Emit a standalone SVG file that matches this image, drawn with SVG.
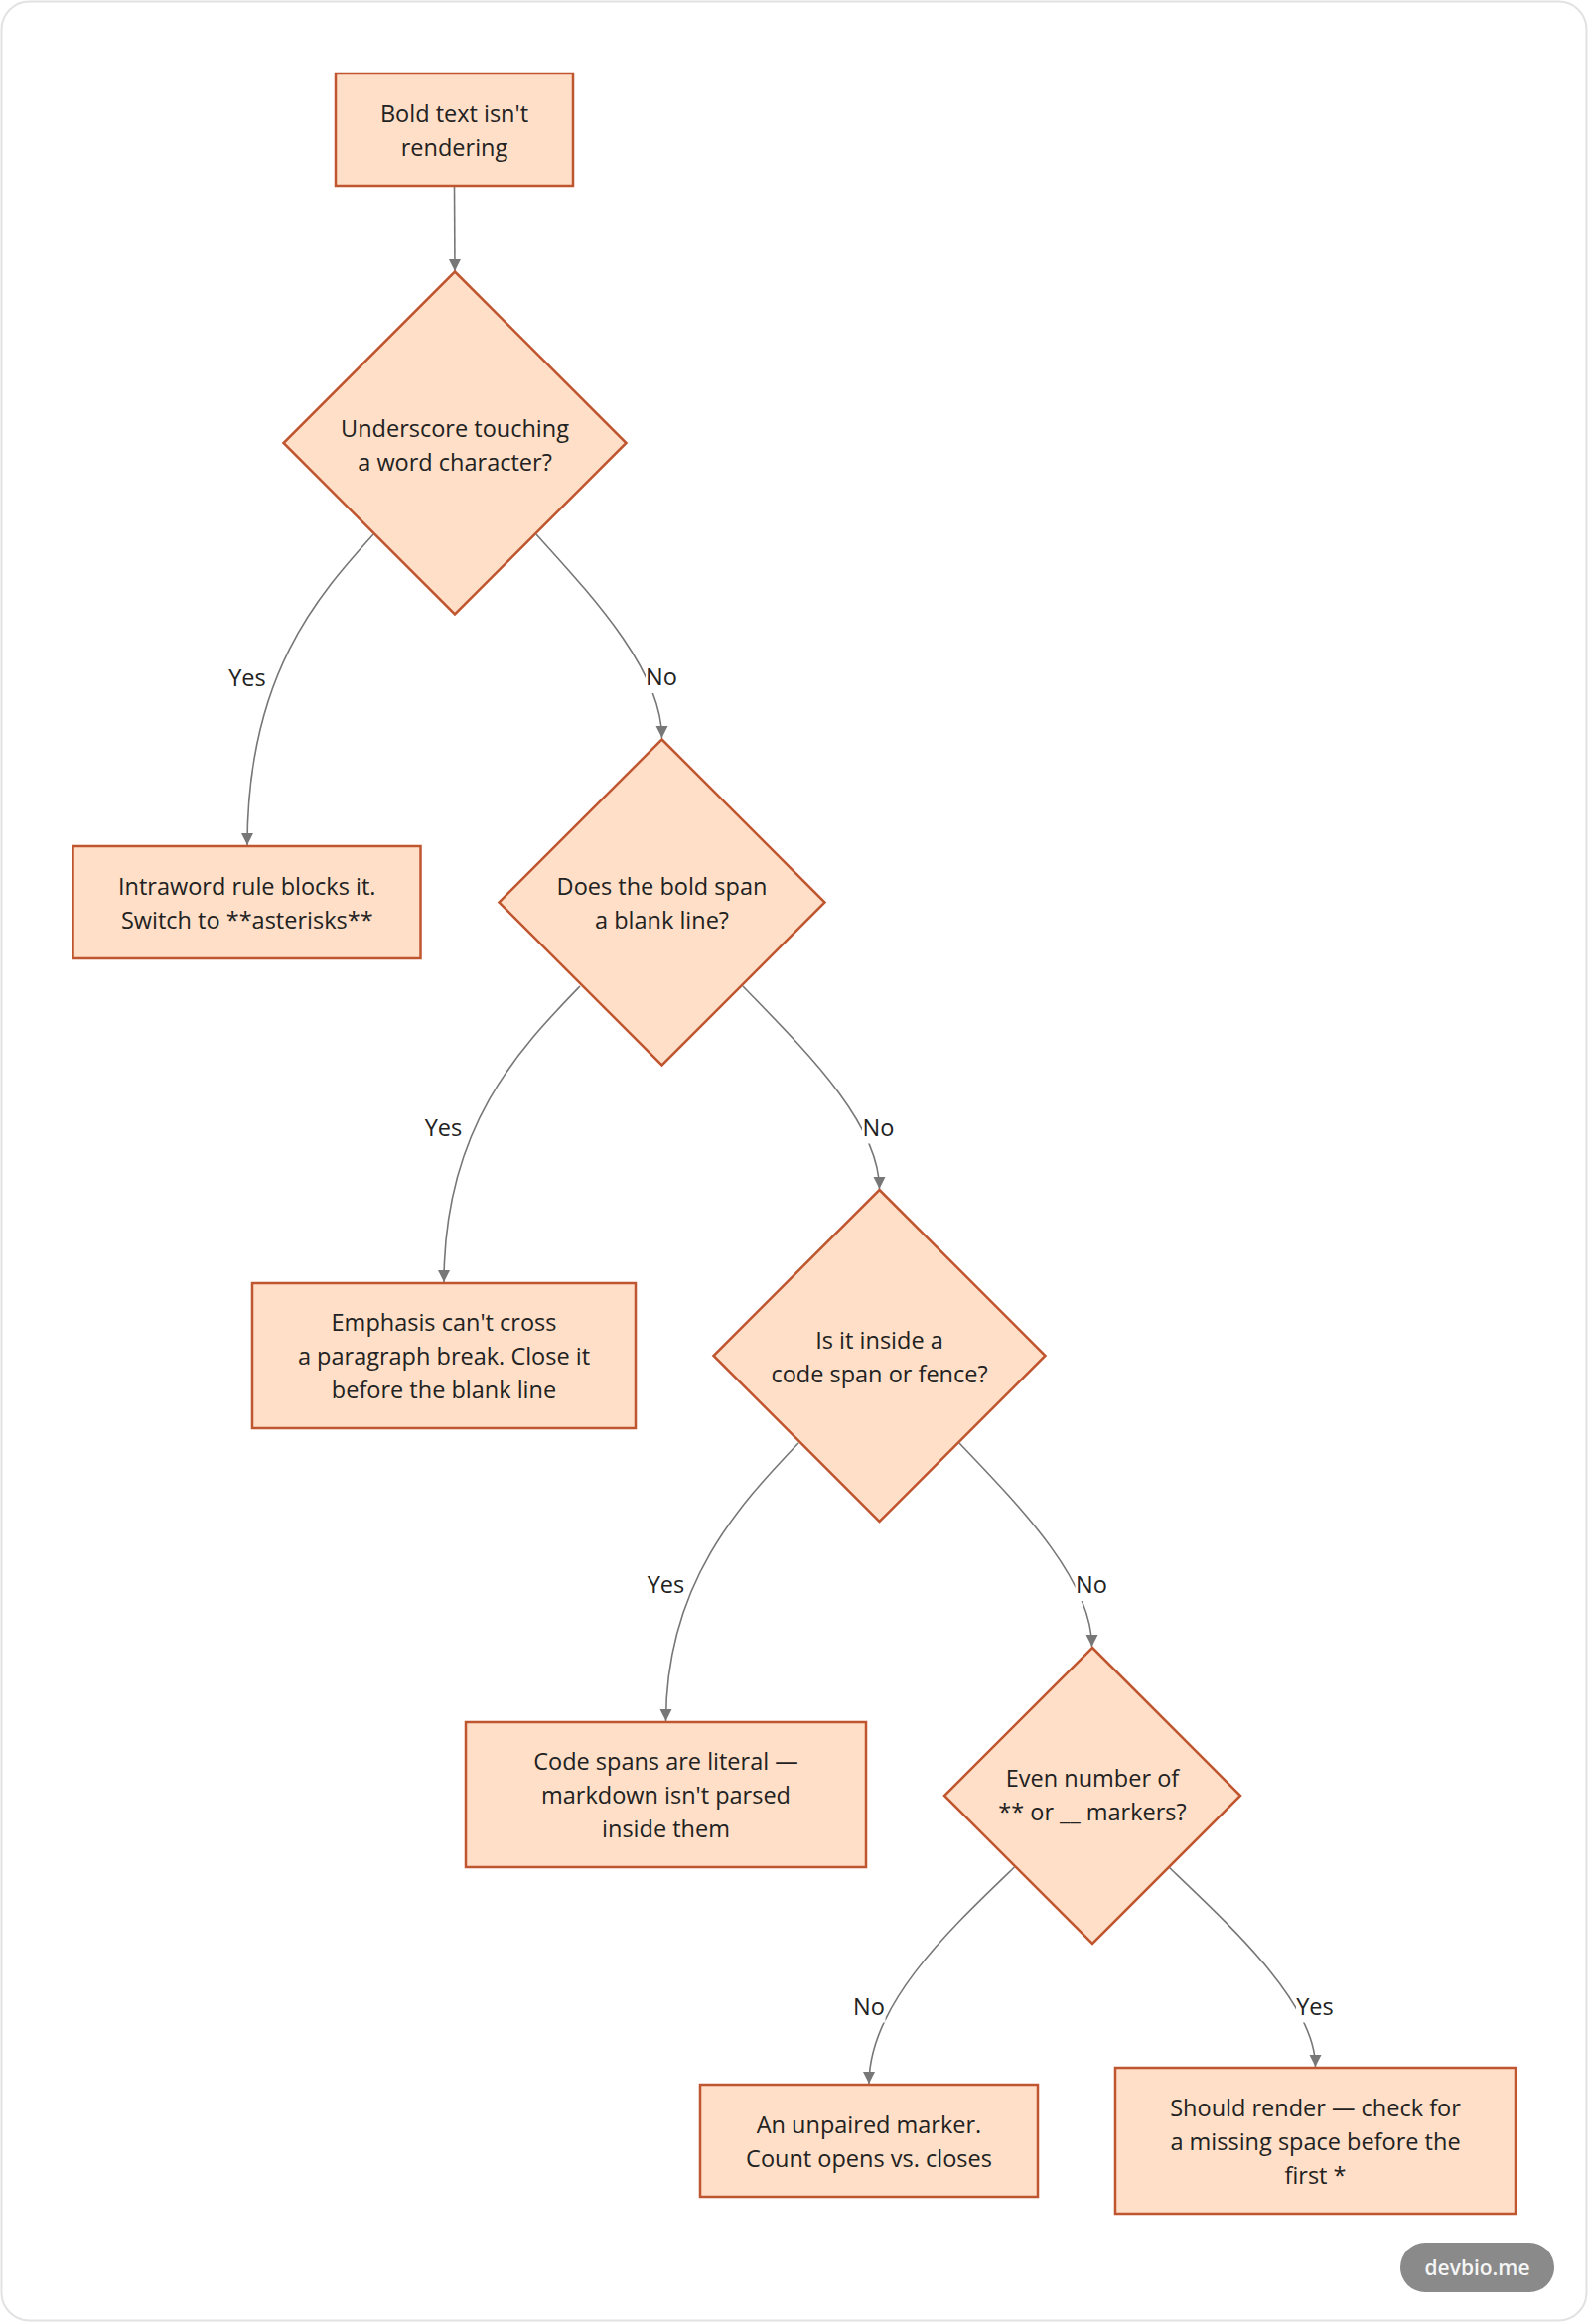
<svg xmlns="http://www.w3.org/2000/svg" width="1600" height="2340" viewBox="0 0 1600 2340">
  <style>
    .node rect, .node polygon { fill: #ffdfc7; stroke: #bf5630; stroke-width: 2.5; }
    .node text { font-family: "Open Sans", "Noto Sans", "Liberation Sans", sans-serif; font-size: 23.5px; fill: #222222; text-anchor: middle; dominant-baseline: central; }
    .edge { fill: none; stroke: #777777; stroke-width: 1.6; }
    .lbl rect { fill: #ffffff; }
    .lbl text { font-family: "Open Sans", "Noto Sans", "Liberation Sans", sans-serif; font-size: 23.5px; fill: #222222; text-anchor: middle; dominant-baseline: central; }
  </style>
  <defs>
    <marker id="arrow" markerUnits="userSpaceOnUse" markerWidth="13" markerHeight="13" refX="12" refY="6" orient="auto">
      <path d="M0,0 L12,6 L0,12 z" fill="#777777"/>
    </marker>
  </defs>

  <rect x="0" y="0" width="1600" height="2340" fill="#ffffff"/>
  <rect id="card" x="1.5" y="1.5" width="1596" height="2335" rx="28" ry="28" fill="#ffffff" stroke="#e2e2e2" stroke-width="2"/>

  <g id="connectors">
    <path class="edge" d="M457.5,187 L458,273" marker-end="url(#arrow)"/>
    <path class="edge" d="M376,538 C320,600 249,680 249,851" marker-end="url(#arrow)"/>
    <path class="edge" d="M540,538 C596,600 666.5,675 666.5,743" marker-end="url(#arrow)"/>
    <path class="edge" d="M584,993 C524,1055 447,1134 447,1291" marker-end="url(#arrow)"/>
    <path class="edge" d="M748,993 C808,1055 885.5,1130 885.5,1197" marker-end="url(#arrow)"/>
    <path class="edge" d="M804,1453 C745,1515 670.5,1594 670.5,1733" marker-end="url(#arrow)"/>
    <path class="edge" d="M966,1453 C1025,1515 1099.5,1590 1099.5,1658" marker-end="url(#arrow)"/>
    <path class="edge" d="M1021.5,1880 C957,1942 875,2018 875,2098" marker-end="url(#arrow)"/>
    <path class="edge" d="M1177,1880 C1242,1942 1324.5,2018 1324.5,2081" marker-end="url(#arrow)"/>

    <g class="lbl"><rect x="230" y="665" width="38" height="34"/><text x="249" y="682">Yes</text></g>
    <g class="lbl"><rect x="650" y="664" width="33" height="34"/><text x="666" y="681">No</text></g>
    <g class="lbl"><rect x="427.5" y="1117.5" width="38" height="34"/><text x="446.5" y="1134.5">Yes</text></g>
    <g class="lbl"><rect x="868" y="1117.5" width="33" height="34"/><text x="884.5" y="1134.5">No</text></g>
    <g class="lbl"><rect x="651.5" y="1578" width="38" height="34"/><text x="670.5" y="1595">Yes</text></g>
    <g class="lbl"><rect x="1082.5" y="1578" width="33" height="34"/><text x="1099" y="1595">No</text></g>
    <g class="lbl"><rect x="858.5" y="2002.5" width="33" height="34"/><text x="875" y="2019.5">No</text></g>
    <g class="lbl"><rect x="1305" y="2002.5" width="38" height="34"/><text x="1324" y="2019.5">Yes</text></g>
  </g>

  <g id="start" class="node">
    <rect x="338" y="74" width="239" height="113"/>
    <text x="457.5" y="113.5">Bold text isn't</text>
    <text x="457.5" y="147.5">rendering</text>
  </g>

  <g id="q1" class="node">
    <polygon points="458,273.5 630.5,446 458,618.5 285.5,446"/>
    <text x="458" y="430.5">Underscore touching</text>
    <text x="458" y="464.5">a word character?</text>
  </g>

  <g id="intraword" class="node">
    <rect x="73.5" y="852" width="350" height="113"/>
    <text x="248.75" y="891.5">Intraword rule blocks it.</text>
    <text x="248.75" y="925.5">Switch to **asterisks**</text>
  </g>

  <g id="q2" class="node">
    <polygon points="666.5,744.5 830.5,908.5 666.5,1072.5 502.5,908.5"/>
    <text x="666.5" y="891.5">Does the bold span</text>
    <text x="666.5" y="925.5">a blank line?</text>
  </g>

  <g id="emphasis" class="node">
    <rect x="254" y="1292" width="386" height="146"/>
    <text x="447" y="1331">Emphasis can't cross</text>
    <text x="447" y="1365">a paragraph break. Close it</text>
    <text x="447" y="1399">before the blank line</text>
  </g>

  <g id="q3" class="node">
    <polygon points="885.5,1198 1052.5,1365 885.5,1532 718.5,1365"/>
    <text x="885.5" y="1348.5">Is it inside a</text>
    <text x="885.5" y="1382.5">code span or fence?</text>
  </g>

  <g id="codespans" class="node">
    <rect x="469" y="1734" width="403" height="146"/>
    <text x="670.5" y="1773">Code spans are literal —</text>
    <text x="670.5" y="1807">markdown isn't parsed</text>
    <text x="670.5" y="1841">inside them</text>
  </g>

  <g id="q4" class="node">
    <polygon points="1100,1659 1249,1808 1100,1957 951,1808"/>
    <text x="1100" y="1790">Even number of</text>
    <text x="1100" y="1824">** or __ markers?</text>
  </g>

  <g id="unpaired" class="node">
    <rect x="705" y="2099" width="340" height="113"/>
    <text x="875" y="2138.5">An unpaired marker.</text>
    <text x="875" y="2172.5">Count opens vs. closes</text>
  </g>

  <g id="shouldrender" class="node">
    <rect x="1123" y="2082" width="403" height="147"/>
    <text x="1324.5" y="2121.5">Should render — check for</text>
    <text x="1324.5" y="2155.5">a missing space before the</text>
    <text x="1324.5" y="2189.5">first *</text>
  </g>

  <g id="badge">
    <rect x="1410" y="2258" width="155" height="50" rx="25" ry="25" fill="#8a8a8a"/>
    <text x="1487.5" y="2283" font-family="Open Sans, Noto Sans, Liberation Sans, sans-serif" font-size="21" font-weight="600" fill="#f5f5f5" text-anchor="middle" dominant-baseline="central">devbio.me</text>
  </g>
</svg>
